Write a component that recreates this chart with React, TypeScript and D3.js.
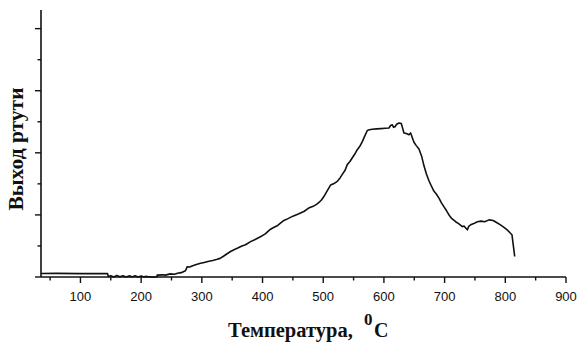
import React from "react";
import * as d3 from "d3";

const temperature: number[] = [
  35, 60, 100, 144.5, 146, 150, 155, 160, 165, 170, 175, 180, 185, 190, 195, 200, 205, 207, 215, 226,
  226.4, 235, 240, 248, 255, 260, 266, 273, 276, 280, 285, 291, 297.8, 304, 310, 318, 325.3, 330, 335, 341, 347.3,
  353, 360, 366, 372, 380.3, 387, 395, 404, 413.2, 419, 425, 430, 435.2, 442, 450, 458, 468.1, 476, 484.6, 489,
  493, 497, 501.1, 506, 512.1, 517, 523.2, 528, 532, 536, 539.6, 544, 548, 552, 556.1, 560, 564.4, 568, 572.6,
  576, 580.9, 588, 595, 602, 608.3, 611, 613.9, 616, 618.2, 621, 624.7, 628.7, 633, 637, 641.2, 644, 649.5,
  653, 657.7, 662, 666, 670, 674.2, 678, 682.5, 686, 690.7, 695, 699, 703, 707.2, 712, 718.2, 723, 729.3,
  732, 734.7, 737.5, 740, 743, 748, 754, 760, 766, 773.1, 780, 787, 792, 797.8, 803, 808.9, 811, 815.5,
];

const mercuryYield: number[] = [
  0.056, 0.058, 0.055, 0.056, 0.008, 0.02, 0.0, 0.025, 0.005, 0.02, 0.0, 0.018, 0.002, 0.02, 0.0, 0.015, 0.0, 0.01, 0.0, 0.0,
  0.03, 0.035, 0.03, 0.05, 0.045, 0.06, 0.07, 0.1, 0.166, 0.16, 0.18, 0.2, 0.22, 0.235, 0.25, 0.265, 0.285, 0.3, 0.33, 0.37, 0.41,
  0.44, 0.47, 0.5, 0.52, 0.57, 0.6, 0.64, 0.69, 0.77, 0.8, 0.83, 0.87, 0.91, 0.94, 0.98, 1.01, 1.055, 1.11, 1.145, 1.17,
  1.2, 1.24, 1.295, 1.38, 1.48, 1.5, 1.54, 1.6, 1.66, 1.72, 1.81, 1.86, 1.92, 1.98, 2.05, 2.1, 2.18, 2.26, 2.36,
  2.37, 2.38, 2.385, 2.39, 2.395, 2.40, 2.44, 2.45, 2.41, 2.42, 2.46, 2.48, 2.47, 2.32, 2.31, 2.29, 2.32, 2.17,
  2.12, 2.06, 1.95, 1.79, 1.66, 1.55, 1.47, 1.38, 1.34, 1.27, 1.19, 1.13, 1.07, 1.0, 0.94, 0.89, 0.86, 0.81,
  0.82, 0.79, 0.76, 0.82, 0.84, 0.86, 0.89, 0.9, 0.89, 0.92, 0.91, 0.87, 0.84, 0.8, 0.76, 0.7, 0.68, 0.33,
];

const xMajorTicks: number[] = [100, 200, 300, 400, 500, 600, 700, 800, 900];
const xMinorTicks: number[] = [50, 150, 250, 350, 450, 550, 650, 750, 850];
const yMajorTicks: number[] = [0, 1, 2, 3, 4];
const yMinorTicks: number[] = [0.5, 1.5, 2.5, 3.5];

const xTitle = "Температура,";
const xTitleSup = "0";
const xTitleUnit = "C";
const yTitle = "Выход ртути";

export default function App() {
  const W = 583;
  const H = 342;
  const x = d3.scaleLinear().domain([35, 900]).range([41, 566]);
  const y = d3.scaleLinear().domain([0, 4.3]).range([277, 10]);
  const data = temperature.map((t, i) => [t, mercuryYield[i]] as [number, number]);
  const line = d3
    .line<[number, number]>()
    .x((d) => x(d[0]))
    .y((d) => y(d[1]));

  const axisColor = "#111";
  const tickFont = "Liberation Sans, Arial, sans-serif";
  const titleFont = "Liberation Serif, Times New Roman, serif";

  return (
    <svg
      width={W}
      height={H}
      style={{ position: "absolute", left: 0, top: 0, background: "#fff" }}
    >
      <rect x={0} y={0} width={W} height={H} fill="#fff" />
      <path d={line(data) || ""} fill="none" stroke="#111" strokeWidth={1.6} strokeLinejoin="round" />
      <line x1={x(35)} x2={x(900)} y1={y(0)} y2={y(0)} stroke={axisColor} strokeWidth={1.6} />
      <line x1={x(35)} x2={x(35)} y1={y(0)} y2={y(4.3)} stroke={axisColor} strokeWidth={1.6} />
      {xMajorTicks.map((t) => (
        <line key={"xM" + t} x1={x(t)} x2={x(t)} y1={y(0)} y2={y(0) + 6} stroke={axisColor} strokeWidth={1.4} />
      ))}
      {xMinorTicks.map((t) => (
        <line key={"xm" + t} x1={x(t)} x2={x(t)} y1={y(0)} y2={y(0) + 3.5} stroke={axisColor} strokeWidth={1.4} />
      ))}
      {yMajorTicks.map((t) => (
        <line key={"yM" + t} x1={x(35) - 6} x2={x(35)} y1={y(t)} y2={y(t)} stroke={axisColor} strokeWidth={1.4} />
      ))}
      {yMinorTicks.map((t) => (
        <line key={"ym" + t} x1={x(35) - 3.5} x2={x(35)} y1={y(t)} y2={y(t)} stroke={axisColor} strokeWidth={1.4} />
      ))}
      {xMajorTicks.map((t) => (
        <text
          key={"xl" + t}
          x={x(t)}
          y={301}
          textAnchor="middle"
          fontFamily={tickFont}
          fontSize={13}
          fill="#111"
        >
          {t}
        </text>
      ))}
      <text x={228} y={337} fontFamily={titleFont} fontWeight="bold" fontSize={20.5} fill="#111">
        {xTitle}
      </text>
      <text x={364} y={325} fontFamily={titleFont} fontWeight="bold" fontSize={17} fill="#111">
        {xTitleSup}
      </text>
      <text x={374} y={337} fontFamily={titleFont} fontWeight="bold" fontSize={20} fill="#111">
        {xTitleUnit}
      </text>
      <text
        transform={`translate(23,149) rotate(-90)`}
        textAnchor="middle"
        fontFamily={titleFont}
        fontWeight="bold"
        fontSize={21.5}
        fill="#111"
      >
        {yTitle}
      </text>
    </svg>
  );
}
